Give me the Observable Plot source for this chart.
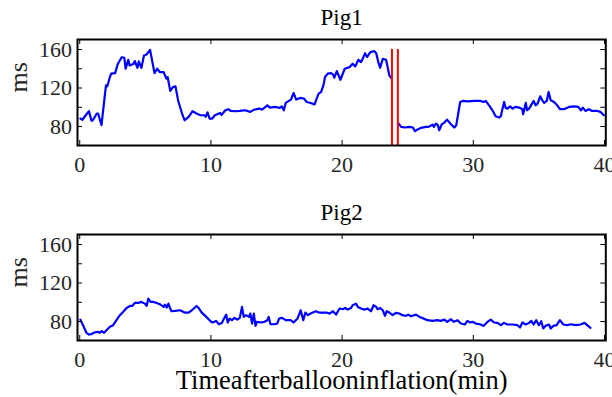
<!DOCTYPE html>
<html><head><meta charset="utf-8">
<script src="https://cdn.jsdelivr.net/npm/d3@7"></script>
<script src="https://cdn.jsdelivr.net/npm/@observablehq/plot@0.6"></script>
<style>
body{margin:0;background:#fff;}
#c{position:relative;width:612px;height:397px;}
#c svg{display:block;}
#c svg text{font-family:"Liberation Serif","Times New Roman",serif !important;}
</style></head><body><div id="c"></div>
<script>
// Time after balloon inflation (min), ms
const pig1Data = [
[0.05,88.3],[0.2,87],[0.4,90.7],[0.7,96],[0.9,86],[1.0,86.5],[1.3,93.5],[1.4,93.5],[1.66,81.4],[2.0,122.8],[2.1,121.7],[2.3,131.4],[2.4,134.9],[2.7,135.5],[2.9,145],[3.2,152],[3.4,151.4],[3.5,140],[3.7,149.3],[3.8,143.5],[4.1,145],[4.2,148],[4.4,141],[4.5,147.6],[4.7,141],[4.9,153.8],[5.1,154.9],[5.36,159.7],[5.7,135.5],[5.9,140],[6.1,136.6],[6.4,136.6],[6.6,129.7],[6.7,131.4],[6.9,117],[7.1,121],[7.3,121.7],[7.5,107],[7.8,93.5],[8.0,86.5],[8.3,90],[8.6,95.9],[8.9,93.5],[9.2,91.7],[9.5,91.7],[9.6,90],[9.74,94.8],[9.9,88.3],[10.1,88.3],[10.3,91.7],[10.7,94.1],[10.8,92],[11.1,96.9],[11.35,98],[11.5,96.2],[11.9,95.9],[12.2,96.2],[12.6,96.9],[13.0,95.2],[13.3,97.6],[13.7,98.6],[13.9,97.6],[14.3,102],[14.5,99.7],[14.9,100.4],[15.25,99.3],[15.4,101],[15.56,96.9],[15.7,104.5],[16.1,108],[16.3,114.8],[16.5,108],[16.8,109.7],[17.1,109],[17.3,105.5],[17.6,104.5],[17.9,103],[18.2,114],[18.4,116],[18.58,123],[18.7,131.4],[18.9,134.9],[19.16,135.5],[19.3,134.2],[19.4,130.7],[19.6,137.6],[19.87,128.6],[20.2,140],[20.56,141.7],[20.8,145.2],[21.0,142.4],[21.24,149.3],[21.44,146.9],[21.57,150.3],[21.75,156.2],[21.9,152.1],[22.15,157.3],[22.46,158.3],[22.6,156.2],[22.76,146.9],[22.9,141],[23.1,150.3],[23.35,149.3],[23.47,141.8],[23.6,133.1],[23.73,130.4],
[24.0,null],
[24.3,83.1],[24.5,79.7],[24.8,79],[25.1,79.7],[25.4,79],[25.55,75.2],[25.75,76.9],[26.0,78.6],[26.4,79.7],[26.6,79.7],[26.9,82],[27.0,79.7],[27.15,83.1],[27.3,81.4],[27.4,76.2],[27.6,82.4],[27.8,84.1],[28.0,87.2],[28.3,82.4],[28.55,79],[28.7,81.4],[29.0,105.5],[29.2,106.6],[29.56,106.2],[30.06,106.6],[30.57,106.6],[30.77,105.5],[30.95,106.6],[31.2,102],[31.46,96.9],[31.7,90.7],[31.97,89.3],[32.1,90.7],[32.2,96.9],[32.35,105.5],[32.47,99.3],[32.6,98.6],[32.8,101],[33.0,98.6],[33.2,100.4],[33.5,99.7],[33.74,98],[33.8,92.8],[34.0,104.5],[34.1,96.9],[34.25,98.6],[34.4,102],[34.6,106.6],[34.75,102],[34.9,103.8],[35.1,111.4],[35.26,107.3],[35.4,104.5],[35.6,106.6],[35.74,115.9],[35.9,107.3],[36.15,105.5],[36.4,102],[36.6,98],[36.9,98],[37.3,100.4],[37.67,101],[38.0,100.4],[38.2,96.9],[38.35,99.7],[38.55,96.2],[38.8,98],[39.06,96.2],[39.44,96.2],[39.7,95.2],[39.95,91.7]
];
const pig2Data = [
[0.05,82],[0.25,76.2],[0.5,68.6],[0.7,66.5],[0.9,66.9],[1.1,68.6],[1.4,69.3],[1.53,68.3],[1.66,70],[1.86,68.3],[2.04,71],[2.3,74.5],[2.55,76.2],[2.8,81.4],[3.06,86.6],[3.3,90],[3.57,94.1],[3.83,96.2],[4.0,96.2],[4.2,99.3],[4.46,99.3],[4.7,100.4],[4.97,98.6],[5.1,96.2],[5.23,103.8],[5.4,100.4],[5.6,100.4],[5.87,99.3],[6.1,98],[6.4,95.2],[6.5,97.6],[6.63,94.5],[6.76,98.6],[6.9,93.5],[7.0,90.7],[7.27,91],[7.65,91.7],[8.0,89.3],[8.3,89.3],[8.55,91.7],[8.9,96.2],[9.06,94.1],[9.3,89.3],[9.57,85.9],[9.9,81.4],[10.08,79],[10.26,79.7],[10.4,80.7],[10.6,77.2],[10.84,78.6],[11.0,83.1],[11.17,87.2],[11.28,79],[11.43,83.1],[11.6,81.4],[11.8,83.8],[12.0,82],[12.2,83.8],[12.37,95.2],[12.5,84.8],[12.68,86.6],[12.9,84.8],[13.0,88.3],[13.14,77.9],[13.27,88.3],[13.4,75.5],[13.5,79.7],[13.8,79],[14.08,79.7],[14.3,81.4],[14.4,84.8],[14.54,77.2],[14.8,77.2],[15.05,77.9],[15.2,83.1],[15.43,83.8],[15.7,81.4],[16.07,81.4],[16.3,79],[16.6,83.1],[16.84,91.7],[17.04,81.4],[17.2,89.3],[17.4,86.6],[17.6,88.3],[17.98,90.7],[18.24,89.3],[18.8,89.3],[19.04,88.3],[19.3,90.7],[19.54,87.2],[19.8,93.5],[20.05,92.8],[20.23,94.1],[20.43,92.4],[20.68,94.1],[20.8,96.9],[21.06,98.6],[21.2,95.2],[21.44,93.5],[21.7,92.4],[21.95,93.5],[22.2,90.7],[22.4,96.9],[22.6,95.2],[22.7,92.8],[22.9,94.1],[23.1,91.7],[23.27,85.9],[23.4,90.7],[23.6,89.3],[23.85,86.6],[24.1,89],[24.36,88.3],[24.6,86.6],[24.87,85.9],[25.04,87.2],[25.25,85.5],[25.63,87.2],[25.9,84.8],[26.1,83.8],[26.5,81.4],[26.9,80.7],[27.27,81.4],[27.5,80.7],[27.8,82],[28.0,79.7],[28.3,82.4],[28.5,79.7],[28.8,81.4],[29.05,77.9],[29.35,76.9],[29.55,80.7],[29.76,79],[29.94,79.7],[30.2,77.9],[30.5,77.2],[30.8,75.5],[31.08,79.7],[31.33,82],[31.58,79],[31.84,78.6],[32.1,76.2],[32.34,78.6],[32.6,76.9],[33.0,76.9],[33.36,76.2],[33.56,73.8],[33.74,79],[34.0,76.9],[34.25,78.6],[34.42,80.7],[34.6,76.9],[34.8,81.4],[35.0,76.2],[35.18,80.3],[35.33,72.8],[35.5,75.5],[35.77,76.9],[35.9,72.8],[36.1,75.5],[36.35,76.2],[36.6,81.4],[36.86,76.9],[37.16,76.2],[37.4,77.2],[37.8,76.2],[38.17,76.9],[38.48,78.6],[38.68,76.2],[38.93,73.4]
];
const redLineX = [23.8, 24.25];
const redLineTop = 160;
const xTicks = [0, 10, 20, 30, 40];
const yTicks = [80, 100, 120, 140, 160];
const yLabels = [80, 120, 160];
const titles = ["Pig1", "Pig2"];
const yLabel = "ms";
const xLabel = "Timeafterballooninflation(min)";
const xDomain = [-0.17, 40.1];
const yDomain = [60.3, 170.4];

const FONT = "'Liberation Serif', 'Times New Roman', serif";
const TXT = "#262626";
const W = 612, ML = 77, MR = 6.7, MT = 39;
const FW = W - ML - MR, FH = 106;

function panel(title, data, height, extra) {
  const t = {fontFamily: FONT};
  const marks = [
    Plot.line(data, {x: d => d[0], y: d => d[1], stroke: "#0000ff", strokeWidth: 2.2}),
    ...(extra || []),
    Plot.tickX(xTicks, {x: d => d, insetTop: FH - 5, stroke: "#000", strokeWidth: 1}),
    Plot.tickX(xTicks, {x: d => d, insetBottom: FH - 5, stroke: "#000", strokeWidth: 1}),
    Plot.tickY(yTicks, {y: d => d, insetRight: FW - 5, stroke: "#000", strokeWidth: 1}),
    Plot.tickY(yTicks, {y: d => d, insetLeft: FW - 5, stroke: "#000", strokeWidth: 1}),
    Plot.frame({stroke: "#000", strokeWidth: 2}),
    Plot.text(xTicks, {...t, x: d => d, text: d => String(d), frameAnchor: "bottom", lineAnchor: "bottom", dy: 26, fontSize: 22, fill: TXT}),
    Plot.text(yLabels, {...t, y: d => d, text: d => String(d), frameAnchor: "left", textAnchor: "end", lineAnchor: "middle", dx: -5.5, fontSize: 22, fill: TXT}),
    Plot.text([title], {...t, text: d => d, frameAnchor: "top", lineAnchor: "bottom", dy: -15, fontSize: 23, fill: "#000"}),
    Plot.text([yLabel], {...t, text: d => d, frameAnchor: "left", rotate: -90, lineAnchor: "middle", dx: -59, fontSize: 26, fill: TXT})
  ];
  return Plot.plot({
    width: W, height,
    marginLeft: ML, marginRight: MR, marginTop: MT, marginBottom: height - MT - FH,
    x: {domain: xDomain, axis: null},
    y: {domain: yDomain, axis: null},
    style: {fontFamily: FONT, background: "#fff", overflow: "visible"},
    marks
  });
}

const c = document.getElementById("c");
const red = [Plot.ruleX(redLineX, {x: d => d, y1: yDomain[0], y2: redLineTop, stroke: "#ff0000", strokeWidth: 2})];
c.appendChild(panel(titles[0], pig1Data, 195, red));
c.appendChild(panel(titles[1], pig2Data, 202, [
  Plot.text([xLabel], {fontFamily: FONT, text: d => d, frameAnchor: "bottom", lineAnchor: "bottom", dy: 48.5, fontSize: 26.5, fill: "#000"})
]));
</script></body></html>
